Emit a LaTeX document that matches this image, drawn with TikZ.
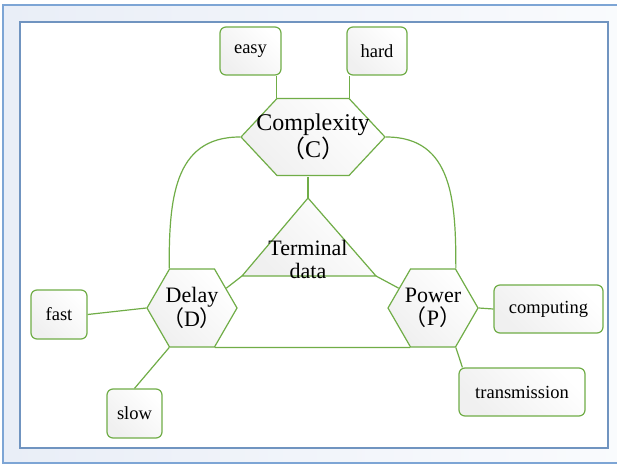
\documentclass[tikz,border=0pt]{standalone}
\usepackage{fontspec}
\setmainfont{Liberation Serif}
\newfontfamily\cjk{Noto Sans CJK SC}
\usepackage{tikz}
\usetikzlibrary{shapes.geometric}

\definecolor{leafgreen}{HTML}{70AD47}
\definecolor{panelblue}{HTML}{7DA5D5}
\definecolor{panelfill}{HTML}{E9EEF7}

% full-width brackets round the short name
\newcommand{\shortname}[1]{{\cjk （}#1{\cjk ）}}

\begin{document}
\begin{tikzpicture}[x=1pt, y=-1pt,
    soft/.style={top color=white, bottom color=black!6, shading angle=-45},
    link/.style={draw=leafgreen, line width=1.2pt},
    box/.style={link, soft, rounded corners=6pt,
        font=\fontsize{18.5}{20}\selectfont},
    hexa/.style={link, soft, regular polygon, regular polygon sides=6,
        minimum size=90, inner sep=-6pt, align=center,
        font=\fontsize{22}{23}\selectfont},
    widehexa/.style={fill=white, inner sep=0pt, align=center,
        path picture={
            \path [link, soft]
                ([xshift=1pt]path picture bounding box.west)
             -- ([xshift=#1, yshift=-1pt]path picture bounding box.north west)
             -- ([xshift=-#1, yshift=-1pt]path picture bounding box.north east)
             -- ([xshift=-1pt]path picture bounding box.east)
             -- ([xshift=-#1, yshift=1pt]path picture bounding box.south east)
             -- ([xshift=#1, yshift=1pt]path picture bounding box.south west)
             -- cycle;}}]
\useasboundingbox (0,0) rectangle (617,465);

% panel
\fill[left color=panelfill, right color=panelfill!25] (3,5) rectangle (617,463);
\draw[panelblue, line width=1.2pt] (617,5) -- (3,5) -- (3,463) -- (617,463);
\draw[panelblue!90!black, fill=white, line width=1.8pt] (20,22) rectangle (608,448);

% the three measures
\node [widehexa=37pt, minimum width=146, minimum height=79,
    font=\fontsize{24}{25}\selectfont] (C) at (313,137)
    {Complexity\\\shortname{C}};
\node [hexa] (D) at (192,308) {Delay\\\shortname{D}};
\node [hexa] (P) at (433,308) {Power\\\shortname{P}};
\coordinate (Cnw) at ([xshift=37pt, yshift=-1pt]C.north west);
\coordinate (Cne) at ([xshift=-37pt, yshift=-1pt]C.north east);

% terminal data in the middle
\coordinate (Ttop) at (308,198);
\coordinate (Tl) at (242,276);
\coordinate (Tr) at (376,276);
\path [link, soft] (Ttop) -- (Tl) -- (Tr) -- cycle;
\node [align=center, font=\fontsize{22}{23}\selectfont] (T) at (308,259)
    {Terminal\\data};

% leaves
\node [box, minimum width=61, minimum height=48] (E) at (250.5,51) {easy};
\node [box, minimum width=60, minimum height=48] (H) at (377,51) {hard};
\node [box, minimum width=56, minimum height=49] (F) at (59,314.5) {fast};
\node [box, minimum width=55, minimum height=49] (S) at (134.5,413.5) {slow};
\node [box, minimum width=109, minimum height=48] (Cp) at (548.5,309) {computing};
\node [box, minimum width=126, minimum height=48] (Tm) at (522,392) {transmission};

% links
\draw [link] (Cnw) -- (Cnw |- E.south);
\draw [link] (Cne) -- (Cne |- H.south);
\draw [link] (Ttop) -- (Ttop |- C.south);
\draw [link] (C.west) to[out=180, in=90, looseness=1.15] (D.120);
\draw [link] (C.east) to[out=0, in=90, looseness=1.15] (P.60);
\draw [link] (Tl) -- (D.30);
\draw [link] (Tr) -- (P.150);
\draw [link] (D.300) -- (P.240);
\draw [link] (F.east) -- (D.west);
\draw [link] (S.north) -- (D.240);
\draw [link] (P.east) -- (Cp.west);
\draw [link] (P.300) -- ([xshift=4pt]Tm.north west);
\end{tikzpicture}
\end{document}
